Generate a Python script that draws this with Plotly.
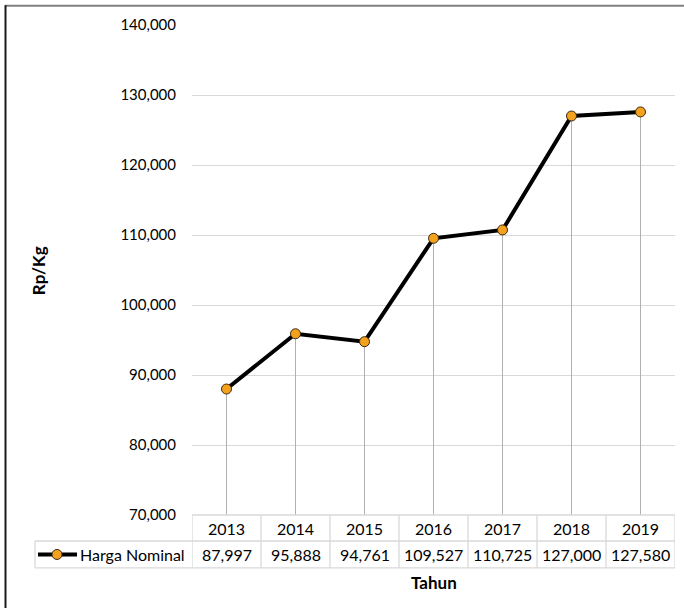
import plotly.graph_objects as go

# Harga nominal per tahun (Rp/Kg)
tahun = ["2013", "2014", "2015", "2016", "2017", "2018", "2019"]
harga_nominal = [87997, 95888, 94761, 109527, 110725, 127000, 127580]
series_name = "Harga Nominal"
y_ticks = [70000, 80000, 90000, 100000, 110000, 120000, 130000, 140000]

FIG_W, FIG_H = 684, 608
# plot area in pixels
L, R, T, B = 192, 675, 24.7, 515
PW, PH = R - L, B - T

FONT = "Lato, 'Open Sans', sans-serif"
TXT = "#000000"
GRID = "#d9d9d9"
TABLE = "#d9d9d9"
LINE_COLOR = "#000000"
MARKER_COLOR = "#f4a11e"


def px(xp):
    return (xp - L) / PW


def py(yp):
    return (B - yp) / PH


fig = go.Figure()
n = len(tahun)
idx = list(range(n))

# vertical drop lines from each point to the axis floor
drop_x, drop_y = [], []
for i, v in zip(idx, harga_nominal):
    drop_x += [i, i, None]
    drop_y += [y_ticks[0], v, None]
fig.add_trace(go.Scatter(
    x=drop_x, y=drop_y, mode="lines",
    line=dict(color="#b0b0b0", width=1),
    hoverinfo="skip", showlegend=False,
))

fig.add_trace(go.Scatter(
    x=idx, y=harga_nominal, name=series_name,
    mode="lines+markers",
    line=dict(color=LINE_COLOR, width=4),
    marker=dict(color=MARKER_COLOR, size=10, line=dict(color="#3a2a10", width=1)),
    customdata=tahun, hovertemplate="%{customdata}: %{y:,}<extra></extra>",
    showlegend=False,
))

shapes = []
annotations = []

# data table below the plot
row1_top, row1_bot, row2_bot = B, 541, 568
legend_left = 35
line_style = dict(color=TABLE, width=1.3)

# horizontal rules
shapes.append(dict(type="line", xref="paper", yref="paper", x0=0, x1=1,
                   y0=py(row1_top), y1=py(row1_top), line=line_style))
shapes.append(dict(type="line", xref="paper", yref="paper", x0=px(legend_left), x1=1,
                   y0=py(row1_bot), y1=py(row1_bot), line=line_style))
shapes.append(dict(type="line", xref="paper", yref="paper", x0=px(legend_left), x1=1,
                   y0=py(row2_bot), y1=py(row2_bot), line=line_style))
# vertical rules
for i in range(n + 1):
    shapes.append(dict(type="line", xref="x", yref="paper", x0=i - 0.5, x1=i - 0.5,
                       y0=py(row1_top), y1=py(row2_bot), line=line_style))
shapes.append(dict(type="line", xref="paper", yref="paper", x0=px(legend_left), x1=px(legend_left),
                   y0=py(row1_bot), y1=py(row2_bot), line=line_style))

for i, t, v in zip(idx, tahun, harga_nominal):
    annotations.append(dict(x=i, xref="x", y=py((row1_top + row1_bot) / 2 + 1), yref="paper",
                            text=t, showarrow=False, xanchor="center", yanchor="middle",
                            font=dict(family=FONT, size=16, color=TXT)))
    annotations.append(dict(x=i, xref="x", y=py((row1_bot + row2_bot) / 2), yref="paper",
                            text=f"{v:,}", showarrow=False, xanchor="center", yanchor="middle",
                            font=dict(family=FONT, size=16, color=TXT)))

# legend key inside the table
key_y = py((row1_bot + row2_bot) / 2)
shapes.append(dict(type="line", xref="paper", yref="paper", x0=px(38), x1=px(77),
                   y0=key_y, y1=key_y, line=dict(color=LINE_COLOR, width=4)))
shapes.append(dict(type="circle", xref="paper", yref="paper",
                   x0=px(57 - 5), x1=px(57 + 5), y0=key_y - 5 / PH, y1=key_y + 5 / PH,
                   fillcolor=MARKER_COLOR, line=dict(color="#3a2a10", width=1)))
annotations.append(dict(x=px(187), xref="paper", y=key_y, yref="paper",
                        text=series_name, showarrow=False, xanchor="right", yanchor="middle",
                        font=dict(family=FONT, size=16, color=TXT)))

# axis titles
annotations.append(dict(x=(px(L) + px(R)) / 2, xref="paper", y=py(583), yref="paper",
                        text="<b>Tahun</b>", showarrow=False, xanchor="center", yanchor="middle",
                        font=dict(family=FONT, size=17, color=TXT)))
annotations.append(dict(x=px(38), xref="paper", y=py(271), yref="paper",
                        text="<b>Rp/Kg</b>", showarrow=False, textangle=-90,
                        xanchor="center", yanchor="middle",
                        font=dict(family=FONT, size=17, color=TXT)))

# chart frame (top and left edges)
shapes.append(dict(type="line", xref="paper", yref="paper", x0=px(5), x1=px(684),
                   y0=py(5.5), y1=py(5.5), line=dict(color="#7f7f7f", width=2)))
shapes.append(dict(type="line", xref="paper", yref="paper", x0=px(5.5), x1=px(5.5),
                   y0=py(5), y1=py(608), line=dict(color="#1a1a1a", width=2)))

fig.update_layout(
    width=FIG_W, height=FIG_H,
    margin=dict(l=L, r=FIG_W - R, t=T, b=FIG_H - B, pad=0),
    paper_bgcolor="white", plot_bgcolor="white",
    font=dict(family=FONT, size=15, color=TXT),
    shapes=shapes, annotations=annotations,
    xaxis=dict(range=[-0.5, n - 0.5], showticklabels=False, showgrid=False,
               zeroline=False, showline=False, ticks=""),
    yaxis=dict(range=[y_ticks[0], y_ticks[-1]], tickvals=y_ticks, tickformat=",",
               showgrid=True, gridcolor=GRID, gridwidth=1.3, zeroline=False,
               showline=False, ticks="", ticklabelstandoff=15,
               tickfont=dict(family=FONT, size=15, color=TXT)),
)

fig.write_html("out.html")
